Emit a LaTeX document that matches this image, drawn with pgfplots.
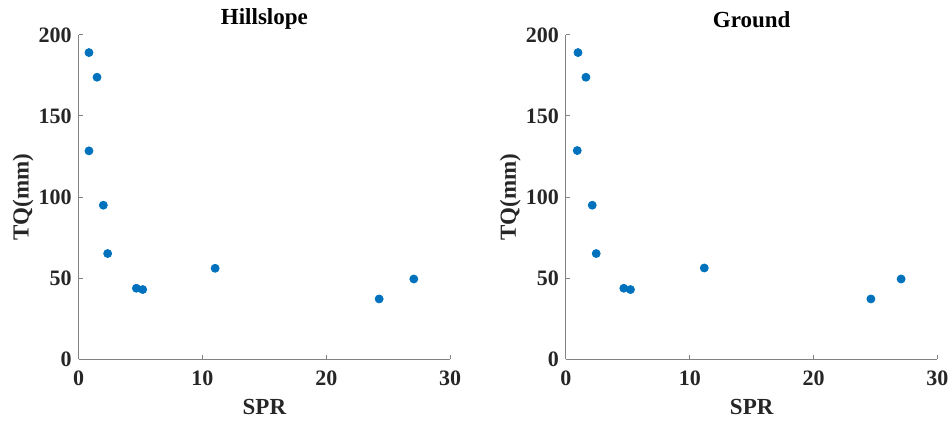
\documentclass[border=0pt]{standalone}
\usepackage{fontspec}
\setmainfont{Liberation Serif}
\usepackage{pgfplots}
\pgfplotsset{compat=1.18}
\definecolor{mblue}{RGB}{0,114,189}
\definecolor{axgray}{RGB}{130,130,130}
\definecolor{txt}{RGB}{38,38,38}

\pgfplotstableread{
x y
0.83 189.1
1.48 173.9
0.83 128.5
1.99 95.0
2.34 65.2
4.66 43.8
5.17 43.0
11.02 56.1
24.27 37.2
27.07 49.5
}\hillslope

\pgfplotstableread{
x y
0.97 189.1
1.61 173.9
0.91 128.7
2.12 95.0
2.44 65.2
4.67 43.8
5.21 43.0
11.17 56.3
24.63 37.2
27.07 49.5
}\ground

\pgfplotsset{
  panel/.style={
    scale only axis,
    width=185.7pt, height=162.2pt,
    xmin=0, xmax=30, ymin=0, ymax=200,
    xtick={0,10,20,30}, ytick={0,50,100,150,200},
    axis x line*=bottom, axis y line*=left,
    axis line style={axgray, line width=0.5pt},
    tick style={axgray, line width=0.5pt},
    tick align=inside, major tick length=2pt,
    /pgf/number format/assume math mode=true,
    tick label style={font=\fontsize{11}{13}\selectfont\bfseries, text=txt},
    xticklabel shift=2.5pt,
    label style={font=\fontsize{11.5}{14}\selectfont\bfseries, text=txt},
    every axis title shift=0pt,
    title style={font=\fontsize{11.5}{14}\selectfont\bfseries, text=black,
      at={(axis description cs:0.5,1.048)}, anchor=center},
    xlabel style={at={(axis description cs:0.5,-0.146)}, anchor=center},
    ylabel style={at={(axis description cs:-0.150,0.5)}, anchor=center},
    xlabel={SPR}, ylabel={TQ(mm)},
  }
}

\begin{document}
\begin{tikzpicture}
\useasboundingbox (-39.35pt,-30.85pt) rectangle (435.65pt,179.65pt);
\begin{axis}[panel, title={Hillslope}, at={(0,0)}, anchor=origin]
  \addplot[only marks, mark=*, mark size=2pt, color=mblue] table[x=x,y=y] {\hillslope};
\end{axis}
\begin{axis}[panel, title={Ground}, at={(243.65pt,0)}, anchor=origin]
  \addplot[only marks, mark=*, mark size=2pt, color=mblue] table[x=x,y=y] {\ground};
\end{axis}
\end{tikzpicture}
\end{document}
